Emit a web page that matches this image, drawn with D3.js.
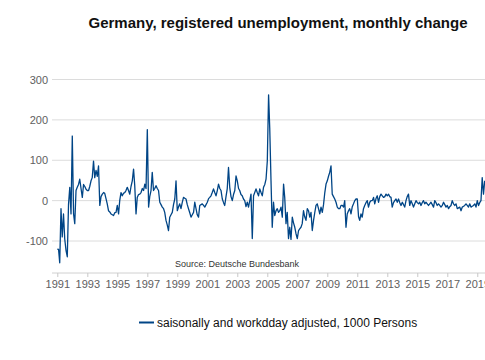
<!DOCTYPE html>
<html>
<head>
<meta charset="utf-8">
<script src="https://cdn.jsdelivr.net/npm/d3@7"></script>
<style>
  body { margin: 0; background: #fff; }
  svg { display: block; font-family: "Liberation Sans", Arial, sans-serif; }
</style>
</head>
<body>
<svg id="chart" width="485" height="360"></svg>
<script>
// monthly change, 1000 persons, Jan 1991 onwards
const changes = [
  -120, -121, -154, -20, -90, -33, -95, -123, -139, -10, 33, -33,
  160, -33, -57, 25, 33, 40, 53, 30, 8, 40, 35, 28,
  25, 25, 35, 49, 57, 98, 57, 75, 60, 86, -12,
  10, 16, 20, 18, 5, -8, -25, -28, -33, -35, -37, -30,
  -29, -12, -33, 0, 20, 12, 18, 20, 25, 33, 25, 16,
  35, 49, 78, 37, -33, 8, 15, 16, 20, 30, 25, 41,
  30, 176, -16, 10, 25, 70, 25, 30, 37, 30, 25, -4,
  -10, -16, -20, -29, -49, -60, -74, -41, -35, -29, -10,
  4, 49, -25, -15, -8, -20, -5, 8, 6, 4, -10, -20,
  -30, -41, -35, -29, -4, -20, -35, -41, -12, -10, -8, -12,
  -16, -10, -4, 5, 8, 12, 20, 29, 20, 12, 25, 41,
  30, 25, 4, -5, -12, 10, 29, 82, 33, 10, 0, 15,
  25, 61, 49, 30, 25, 15, 12, 4, 0, -15, -4,
  -16, 0, 16, -94, 12, 20, 29, 20, 12, 29, 20, 12,
  33, 40, 53, 98, 262, 180, 49, -66, -4, -37, -25, -20,
  -29, -25, -16, -41, 41, 8, -57, -29, -94, -66, -96, -41,
  -55, -66, -82, -94, -74, -70, -66, -57, -25, -40, -49, -20,
  -25, -41, -29, -74, -49, -30, -12, -8, -20, -33, -16,
  -29, -10, 20, 41, 49, 61, 70, 86, 16, 10, 4, -4,
  -16, -20, -20, -12, -12, -16, 0, -66, -33, -25, -20, -33,
  -15, -8, 0, 4, 4, -40, -49, -33, -41, -20, -12, -5,
  0, -16, -4, 0, 0, 8, -8, 5, 12, -4, 10, 16,
  12, 8, 10, 16, 12, 16, 10, 8, -16, -5, 0,
  4, -4, 4, -5, -12, -4, -10, -16, 0, 10, 16, -12,
  0, -8, -16, -8, 0, -5, -8, -4, -12, -5, 0, -8,
  -4, -8, -12, -8, -4, -10, -16, 0, -5, -12, -8, -12,
  -16, -12, -4, -10, -16, -12, -20, -15, -12, 0, -8,
  -12, -8, -20, -18, -16, -25, -16, -14, -12, -8, -12, -16,
  -8, -16, -14, -12, -8, -16, 0, -12, -5, 0, 57, 16, 49
]
const yTicks = [-100, 0, 100, 200, 300]
const xTickYears = [1991, 1993, 1995, 1997, 1999, 2001, 2003, 2005, 2007, 2009, 2011, 2013, 2015, 2017, 2019]

const title = "Germany, registered unemployment, monthly change"
const source = "Source: Deutsche Bundesbank"
const legendLabel = "saisonally and workdday adjusted, 1000 Persons"

let data = changes.map((v, i) => ({date: new Date(1991, i, 1), value: v}))

let svg = d3.select('#chart')
const left = 52, right = 485, axisY = 273

let xScale = d3.scaleTime()
  .domain([new Date(1991, 0, 1), new Date(2021, 0, 1)])
  .range([57.3, 507.3])
let yScale = d3.scaleLinear().domain([-100, 300]).range([241, 79.5])

// grid + y labels
svg.append('g')
  .selectAll('line')
  .data(yTicks)
  .enter()
  .append('line')
  .attr('x1', left).attr('x2', right)
  .attr('y1', d => yScale(d)).attr('y2', d => yScale(d))
  .attr('stroke', '#dcdcdc')
  .attr('stroke-width', 1)

svg.append('g')
  .selectAll('text')
  .data(yTicks)
  .enter()
  .append('text')
  .attr('x', 48)
  .attr('y', d => yScale(d) + 4)
  .attr('text-anchor', 'end')
  .attr('font-size', 11)
  .attr('fill', '#606060')
  .text(d => d)

// x axis
let xAxis = d3.axisBottom(xScale)
  .tickValues(xTickYears.map(y => new Date(y, 0, 1)))
  .tickFormat(d3.timeFormat('%Y'))
  .tickSize(4)
  .tickPadding(3)

let gx = svg.append('g')
  .attr('transform', 'translate(0,' + axisY + ')')
  .call(xAxis)
gx.select('.domain').remove()
gx.insert('line', ':first-child')
  .attr('x1', left).attr('x2', right)
  .attr('stroke', '#d0d0d0')
gx.selectAll('.tick line').attr('stroke', '#c8c8c8')
gx.selectAll('.tick text')
  .attr('font-size', 11)
  .attr('font-family', '"Liberation Sans", Arial, sans-serif')
  .attr('fill', '#606060')

// series
let line = d3.line()
  .x(d => xScale(d.date))
  .y(d => yScale(d.value))

svg.append('path')
  .datum(data)
  .attr('d', line)
  .attr('fill', 'none')
  .attr('stroke', '#004586')
  .attr('stroke-width', 1.3)
  .attr('stroke-linejoin', 'round')

svg.append('text')
  .attr('x', 278).attr('y', 28)
  .attr('text-anchor', 'middle')
  .attr('font-size', 15)
  .attr('font-weight', 'bold')
  .attr('fill', '#111')
  .text(title)

svg.append('text')
  .attr('x', 175).attr('y', 267)
  .attr('font-size', 9)
  .attr('fill', '#333')
  .text(source)

// legend
svg.append('line')
  .attr('x1', 139).attr('x2', 154)
  .attr('y1', 322.5).attr('y2', 322.5)
  .attr('stroke', '#004586')
  .attr('stroke-width', 2)

svg.append('text')
  .attr('x', 157).attr('y', 327)
  .attr('font-size', 12)
  .attr('fill', '#111')
  .text(legendLabel)
</script>
</body>
</html>
